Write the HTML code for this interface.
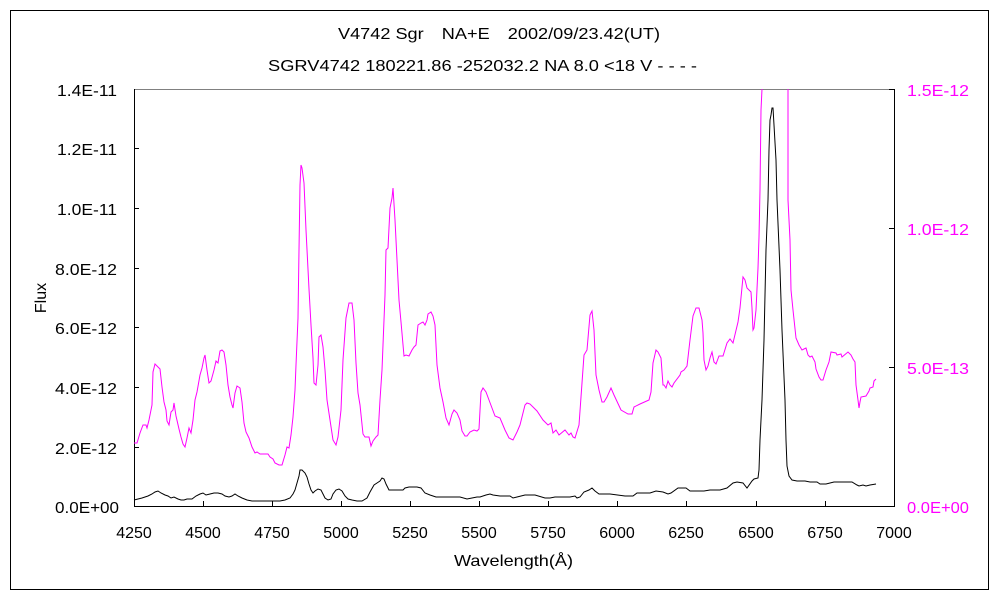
<!DOCTYPE html>
<html><head><meta charset="utf-8"><style>
body{margin:0;background:#fff;}
svg text{font-family:"Liberation Sans","Noto Sans CJK JP",sans-serif;font-size:16px;}
</style></head><body>
<svg width="1000" height="600" xmlns="http://www.w3.org/2000/svg">
<rect x="0" y="0" width="1000" height="600" fill="#fff"/>
<rect x="10.5" y="10.5" width="978" height="579" fill="none" stroke="#000" stroke-width="1"/>
<text x="338" y="39" textLength="322" lengthAdjust="spacingAndGlyphs">V4742 Sgr　NA+E　2002/09/23.42(UT)</text>
<text x="268" y="71" textLength="429" lengthAdjust="spacingAndGlyphs">SGRV4742 180221.86 -252032.2 NA 8.0 &lt;18 V - - - -</text>
<line x1="134" y1="89.5" x2="894" y2="89.5" stroke="#808080"/>
<line x1="134.5" y1="89" x2="134.5" y2="507" stroke="#000"/>
<line x1="894.5" y1="89" x2="894.5" y2="507" stroke="#000"/>
<line x1="134" y1="506.5" x2="895" y2="506.5" stroke="#000"/>
<g stroke="#000">
<line x1="134" y1="148.5" x2="139" y2="148.5"/><line x1="134" y1="208.5" x2="139" y2="208.5"/><line x1="134" y1="268.5" x2="139" y2="268.5"/><line x1="134" y1="327.5" x2="139" y2="327.5"/><line x1="134" y1="387.5" x2="139" y2="387.5"/><line x1="134" y1="447.5" x2="139" y2="447.5"/>
<line x1="889" y1="89.5" x2="894" y2="89.5"/><line x1="889" y1="228.5" x2="894" y2="228.5"/><line x1="889" y1="367.5" x2="894" y2="367.5"/>
<line x1="203.5" y1="501" x2="203.5" y2="506"/><line x1="272.5" y1="501" x2="272.5" y2="506"/><line x1="341.5" y1="501" x2="341.5" y2="506"/><line x1="410.5" y1="501" x2="410.5" y2="506"/><line x1="479.5" y1="501" x2="479.5" y2="506"/><line x1="548.5" y1="501" x2="548.5" y2="506"/><line x1="617.5" y1="501" x2="617.5" y2="506"/><line x1="686.5" y1="501" x2="686.5" y2="506"/><line x1="756.5" y1="501" x2="756.5" y2="506"/><line x1="825.5" y1="501" x2="825.5" y2="506"/>
</g>
<g>
<text x="57" y="96" textLength="60" lengthAdjust="spacingAndGlyphs">1.4E-11</text><text x="57" y="155" textLength="60" lengthAdjust="spacingAndGlyphs">1.2E-11</text><text x="57" y="215" textLength="60" lengthAdjust="spacingAndGlyphs">1.0E-11</text><text x="55" y="275" textLength="62" lengthAdjust="spacingAndGlyphs">8.0E-12</text><text x="55" y="334" textLength="62" lengthAdjust="spacingAndGlyphs">6.0E-12</text><text x="55" y="394" textLength="62" lengthAdjust="spacingAndGlyphs">4.0E-12</text><text x="55" y="454" textLength="62" lengthAdjust="spacingAndGlyphs">2.0E-12</text><text x="55" y="513" textLength="64" lengthAdjust="spacingAndGlyphs">0.0E+00</text>
</g>
<g fill="#ff00ff">
<text x="907" y="96" textLength="62" lengthAdjust="spacingAndGlyphs">1.5E-12</text><text x="907" y="235" textLength="62" lengthAdjust="spacingAndGlyphs">1.0E-12</text><text x="907" y="374" textLength="62" lengthAdjust="spacingAndGlyphs">5.0E-13</text><text x="907" y="513" textLength="62" lengthAdjust="spacingAndGlyphs">0.0E+00</text>
</g>
<g text-anchor="middle">
<text x="134" y="538">4250</text><text x="203" y="538">4500</text><text x="272" y="538">4750</text><text x="341" y="538">5000</text><text x="410" y="538">5250</text><text x="479" y="538">5500</text><text x="548" y="538">5750</text><text x="617" y="538">6000</text><text x="686" y="538">6250</text><text x="756" y="538">6500</text><text x="825" y="538">6750</text><text x="894" y="538">7000</text>
</g>
<text x="454" y="566" textLength="119" lengthAdjust="spacingAndGlyphs">Wavelength(Å)</text>
<text x="0" y="0" transform="translate(46,298) rotate(-90)" text-anchor="middle">Flux</text>
<polyline fill="none" stroke="#ff00ff" stroke-width="1" points="134,443 137,443 140,433 143,425 146,425 147,428 149,420 152,405 153,372 155,364 158,367 160,369 162,387 164,402 166,410 167,421 169,425 171,412 173,410 174,403 176,416 179,429 181,437 183,444 185,447 187,438 189,428 191,433 193,420 195,400 197,392 200,375 202,368 204,358 205,355 207,370 209,383 211,381 214,370 216,361 218,363 220,351 222,350 224,352 226,365 228,385 230,397 232,405 233,408 235,393 237,386 240,388 242,402 244,423 246,432 249,438 252,447 255,453 257,452 260,454 264,454 268,454 270,457 273,459 275,463 279,465 282,465 285,455 287,447 289,448 291,435 293,417 295,390 296,365 298,318 299,250 300,185 301,165 302,168 304,183 306,230 309,289 311,325 313,358 314,383 316,385 318,365 319,337 321,335 323,347 325,370 327,400 330,420 333,440 336,445 338,437 341,410 343,360 346,318 349,303 352,303 354,320 356,363 358,393 360,405 363,434 365,437 367,437 369,437 371,446 373,441 376,437 378,435 380,400 382,370 385,295 386,250 388,248 390,208 392,198 393,188 395,220 397,260 399,300 401,322 404,356 406,355 409,356 412,350 414,347 416,345 418,325 421,323 423,322 425,325 427,320 428,314 431,312 433,316 435,325 437,365 440,388 443,402 446,418 449,425 452,414 454,410 457,413 460,420 462,431 465,436 467,436 470,432 474,430 477,431 479,429 481,392 483,388 486,392 489,400 495,416 500,418 505,430 509,438 513,440 517,432 520,425 525,405 527,403 530,404 533,407 537,411 543,420 548,425 551,423 553,433 556,430 559,435 565,430 569,435 571,433 573,437 575,438 579,425 584,355 587,350 590,315 592,311 594,330 596,375 599,390 602,402 604,402 607,397 611,388 614,395 621,410 628,414 632,414 634,407 640,404 649,400 651,392 653,363 656,350 658,352 661,358 663,385 664,385 666,388 668,381 670,385 672,387 674,383 680,375 681,372 684,370 687,366 690,340 693,316 696,308 699,308 702,320 703,333 704,360 706,370 708,366 710,358 712,352 714,362 716,364 719,356 723,356 727,343 730,339 733,343 738,322 740,308 743,277 745,280 747,288 751,292 752,308 753,330 754,328 756,310 758,268 759,237 760,190 761,110 762,89"/>
<polyline fill="none" stroke="#ff00ff" stroke-width="1" points="788,89 788,200 790,240 791,290 793,310 796,338 799,345 802,350 806,348 808,355 810,357 812,356 815,362 816,369 819,377 821,380 823,380 826,370 829,362 831,352 836,353 837,355 841,354 842,357 848,352 851,355 853,359 855,362 856,385 858,400 859,408 860,402 861,397 866,396 869,391 870,388 873,387 874,381 876,379"/>
<polyline fill="none" stroke="#000" stroke-width="1" points="134,500 138,499 142,498 148,496 152,494 155,492 158,491 161,493 165,495 168,496 171,498 174,497 178,499 181,500 184,500 187,499 192,499 196,496 200,494 203,493 206,495 210,494 214,493 218,493 222,494 225,496 229,497 232,496 235,494 238,496 242,498 247,500 252,501 258,501 265,501 272,501 280,501 285,500 290,498 293,494 295,490 297,483 299,476 300,470 302,470 305,473 307,477 309,484 311,490 313,493 315,491 318,489 321,490 323,494 325,498 328,500 331,499 333,494 336,490 339,489 342,491 345,496 348,499 352,500 357,501 362,501 367,498 370,492 374,485 377,483 380,481 382,478 384,479 386,484 389,490 393,490 399,490 403,490 405,488 409,487 413,487 417,487 421,488 425,493 430,495 436,497 445,497 450,497 460,497 467,499 472,498 477,497 480,497 486,495 490,494 493,495 500,496 510,496 513,498 517,497 525,495 535,495 545,498 550,498 555,497 560,497 570,497 575,496 577,498 580,497 584,492 589,490 592,488 595,491 599,494 605,494 610,494 625,496 633,496 637,493 650,493 656,491 663,492 668,494 671,493 678,488 686,488 690,491 696,491 704,491 710,490 720,490 727,488 733,483 737,482 743,483 747,488 752,481 754,479 758,478 759,470 760,440 762,400 764,340 766,250 768,200 769,150 770,120 771,115 772,108 773,108 774,125 776,160 777,200 780,270 782,330 785,400 786,440 787,466 789,476 792,480 797,481 805,481 810,482 817,482 820,484 826,484 834,482 840,482 852,482 857,485 859,486 863,485 866,486 870,485 876,484"/>
</svg>
</body></html>
